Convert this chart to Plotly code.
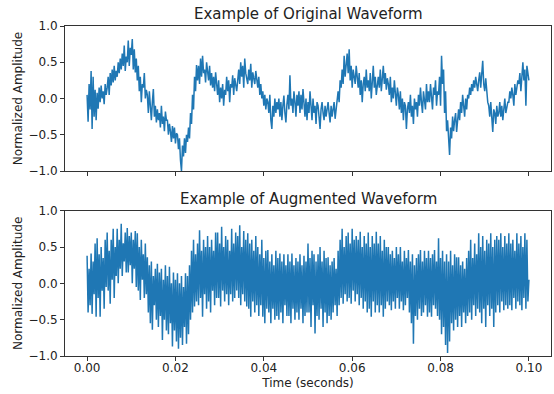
import numpy as np
import plotly.graph_objects as go
from plotly.subplots import make_subplots

# ---- data, in hundredths of normalized amplitude ----
# one listed sample every 0.1/440 s (~0.227 ms)
sample_step = 0.1 / 440

original_wave_centi = [
    5, -32, 20, -15, 38, -42, 30, -25, 12, -30,
    8, -14, 15, -5, 18, 0, 10, -8, 20, 5,
    15, 30, 5, 35, 18, 40, 22, 45, 25, 38,
    30, 50, 35, 55, 40, 62, 45, 73, 38, 58,
    50, 80, 45, 70, 60, 82, 40, 68, 36, 55,
    25, 45, 10, 30, -5, 20, 15, 35, 0, 12,
    5, -20, 10, -15, -30, -5, 13, -25, -10, -33,
    -15, -30, -20, -40, -10, -35, -25, -45, -18, -30,
    -30, -50, -35, -45, -60, -38, -55, -40, -62, -48,
    -50, -70, -55, -85, -100, -65, -80, -55, -75, -50,
    -60, -40, -55, -20, -35, 5, -15, 30, 10, 46,
    25, 45, 20, 55, 30, 59, 35, 40, 22, 50,
    40, 25, 45, 18, 35, 15, 30, 10, 36, 20,
    5, 25, -5, 15, 0, 20, -10, 12, 5, 30,
    10, 25, -5, 20, 15, 32, 5, 28, 18, 10,
    25, 40, 20, 50, 30, 45, 15, 55, 35, 25,
    20, 40, 25, 48, 15, 36, 30, 20, 38, 25,
    15, 30, 5, 20, 0, 10, -10, 5, -15, 0,
    -5, -20, 5, -30, -42, -10, -25, 0, -20, -5,
    -15, 0, -25, -5, -30, -10, 4, -20, -33, -8,
    5, -15, 32, -10, 0, -20, 10, -5, -25, 5,
    -10, 10, -20, 5, -15, 13, -5, -25, 0, -30,
    -5, -20, 10, -15, -30, 0, -20, -10, -35, -5,
    -10, -25, -42, -15, -5, -20, -30, -10, -25, -15,
    -5, -20, -33, -10, -25, -15, -5, -28, -12, 0,
    10, -5, 25, 15, 40, 20, 59, 30, 45, 62,
    35, 68, 25, 45, 15, 40, 30, 20, 45, 28,
    15, 35, 5, 25, -5, 20, 30, 10, 40, 15,
    25, 10, 35, 0, 20, 45, 15, 30, 5, 25,
    30, 15, 40, 10, 25, 45, 20, 35, 12, 28,
    20, 5, 30, -5, 15, 0, 25, 10, -10, 15,
    5, -15, 10, -20, 0, -30, -5, -10, -42, -15,
    -5, -20, 5, -25, -10, -35, 0, -15, -5, -25,
    5, -10, 15, -5, -20, 10, 0, -15, 20, -5,
    10, -5, 20, 0, -15, 15, 5, 25, -10, 10,
    5, 30, -10, 59, 20, 40, -20, 10, -45, -30,
    -60, -78, -40, -55, -25, -45, -30, -20, -46, -30,
    -15, -30, -5, -20, 5, -10, -25, 0, -15, 5,
    0, 15, 5, 20, 10, 25, 15, 30, 20, 10,
    25, 36, 15, 30, 52, 20, 10, 28, 5, -5,
    -10, -25, -5, -30, -46, -15, -20, -35, -10, -25,
    -20, -5, -25, -10, -30, -15, 0, -20, -10, -5,
    -5, 10, 0, 15, 5, -10, 20, 5, 15, 25,
    20, 35, 10, 30, 50, 25, 40, -10, 45, 35,
    25,
]

augmented_wave_centi = [
    38, -40, 20, -30, 41, -42, 30, -15, 55, -46,
    62, -20, 40, -46, 50, -10, 35, -35, 60, -5,
    70, -10, 45, -28, 60, 5, 75, -20, 50, 10,
    75, 0, 60, 20, 82, 10, 55, 30, 70, 15,
    76, 15, 65, 25, 70, 0, 60, 20, 72, -5,
    69, -10, 50, -23, 60, 5, 40, -20, 55, -15,
    36, -40, 25, -55, 30, -64, 10, -30, 20, -50,
    27, -60, 15, -45, 20, -78, 5, -50, 25, -65,
    10, -70, 23, -55, 0, -87, 15, -65, 5, -80,
    14, -90, 0, -75, 10, -85, -5, -60, 14, -83,
    10, -70, 25, -50, 45, -40, 60, -32, 40, -25,
    55, -30, 73, -20, 45, -46, 60, -15, 50, -35,
    65, -25, 50, -40, 60, -10, 45, -30, 70, -20,
    70, -20, 55, -32, 78, -10, 50, -25, 65, -15,
    60, -30, 45, -15, 75, -25, 55, -20, 70, -10,
    65, -20, 80, -30, 50, -15, 72, -25, 60, -32,
    69, -35, 55, -46, 60, -25, 45, -40, 65, -30,
    50, -45, 40, -30, 60, -46, 35, -55, 45, -35,
    46, -40, 30, -55, 40, -35, 25, -50, 45, -45,
    35, -50, 41, -40, 30, -55, 40, -30, 25, -45,
    40, -45, 30, -55, 41, -35, 25, -50, 35, -40,
    30, -50, 40, -35, 25, -55, 38, -45, 30, -40,
    55, -40, 35, -60, 45, -30, 40, -69, 30, -45,
    40, -50, 50, -35, 30, -60, 45, -40, 35, -55,
    36, -45, 25, -50, 30, -40, 35, -30, 20, -45,
    45, -30, 60, -20, 75, -28, 50, -15, 65, -25,
    70, -20, 55, -28, 75, -10, 60, -25, 65, -15,
    60, -30, 71, -20, 50, -35, 65, -25, 55, -40,
    70, -35, 50, -46, 65, -25, 55, -40, 71, -30,
    55, -40, 65, -30, 45, -46, 60, -35, 50, -25,
    50, -30, 40, -37, 45, -25, 35, -35, 50, -20,
    40, -35, 50, -25, 30, -37, 45, -30, 35, -20,
    46, -40, 30, -55, 40, -83, 25, -45, 35, -50,
    40, -35, 46, -45, 30, -40, 45, -30, 35, -46,
    45, -40, 35, -46, 40, -30, 46, -35, 30, -45,
    62, -50, 35, -70, 45, -60, 30, -85, 40, -96,
    30, -80, 45, -55, 25, -65, 40, -50, 36, -60,
    36, -45, 25, -60, 30, -40, 20, -55, 35, -45,
    45, -40, 60, -50, 35, -30, 55, -45, 40, -35,
    69, -40, 50, -55, 65, -35, 45, -60, 60, -30,
    55, -45, 69, -35, 50, -60, 60, -40, 65, -30,
    60, -40, 69, -25, 50, -37, 65, -30, 55, -35,
    69, -30, 55, -37, 60, -20, 45, -35, 69, -25,
    55, -30, 65, -37, 50, -20, 69, -35, 60, -25,
    5,
]

x_ticks = [0.00, 0.02, 0.04, 0.06, 0.08, 0.10]
x_tick_labels = ["0.00", "0.02", "0.04", "0.06", "0.08", "0.10"]
y_ticks = [-1.0, -0.5, 0.0, 0.5, 1.0]
y_tick_labels = ["\u22121.0", "\u22120.5", "0.0", "0.5", "1.0"]

titles = ["Example of Original Waveform", "Example of Augmented Waveform"]
x_label = "Time (seconds)"
y_label = "Normalized Amplitude"

original_wave = np.array(original_wave_centi) / 100.0
augmented_wave = np.array(augmented_wave_centi) / 100.0
time_orig = np.arange(len(original_wave)) * sample_step
time_aug = np.arange(len(augmented_wave)) * sample_step

LINE = "#1f77b4"
FONT = "DejaVu Sans"
TXT = "#222222"

fig = make_subplots(rows=2, cols=1, shared_xaxes=False)
fig.add_trace(go.Scatter(x=time_orig, y=original_wave, mode="lines",
                         line=dict(color=LINE, width=1.5), showlegend=False), row=1, col=1)
fig.add_trace(go.Scatter(x=time_aug, y=augmented_wave, mode="lines",
                         line=dict(color=LINE, width=1.5), showlegend=False), row=2, col=1)

axis_common = dict(showline=True, mirror=True, linecolor="#333333", linewidth=1,
                   ticks="outside", ticklen=4, tickwidth=1, tickcolor="#333333",
                   showgrid=False, zeroline=False,
                   tickfont=dict(family=FONT, size=12, color=TXT))

fig.update_layout(
    width=554, height=394,
    margin=dict(l=65, r=3, t=26, b=38),
    paper_bgcolor="white", plot_bgcolor="white",
    font=dict(family=FONT, size=12, color=TXT),
    xaxis=dict(domain=[0, 1], range=[-0.005, 0.105], tickvals=x_ticks,
               ticktext=["" for _ in x_tick_labels], anchor="y", **axis_common),
    yaxis=dict(domain=[0.5606, 1.0], range=[-1.0, 1.0], tickvals=y_ticks,
               ticktext=y_tick_labels, anchor="x",
               title=dict(text=y_label, font=dict(family=FONT, size=12, color=TXT), standoff=3),
               **axis_common),
    xaxis2=dict(domain=[0, 1], range=[-0.005, 0.105], tickvals=x_ticks,
                ticktext=x_tick_labels, anchor="y2", ticklabelstandoff=-3,
                title=dict(text=x_label, font=dict(family=FONT, size=12, color=TXT), standoff=4),
                **axis_common),
    yaxis2=dict(domain=[0.0, 0.4403], range=[-1.0, 1.0], tickvals=y_ticks,
                ticktext=y_tick_labels, anchor="x2",
                title=dict(text=y_label, font=dict(family=FONT, size=12, color=TXT), standoff=3),
                **axis_common),
)

fig.add_annotation(text=titles[0], xref="paper", yref="paper", x=0.5, y=1.0,
                   yanchor="bottom", yshift=1, showarrow=False,
                   font=dict(family=FONT, size=15, color=TXT))
fig.add_annotation(text=titles[1], xref="paper", yref="paper", x=0.5, y=0.4403,
                   yanchor="bottom", yshift=1, showarrow=False,
                   font=dict(family=FONT, size=15, color=TXT))

fig.write_html("out.html", config={"displayModeBar": False},
               post_script="document.body.style.margin='0';")
